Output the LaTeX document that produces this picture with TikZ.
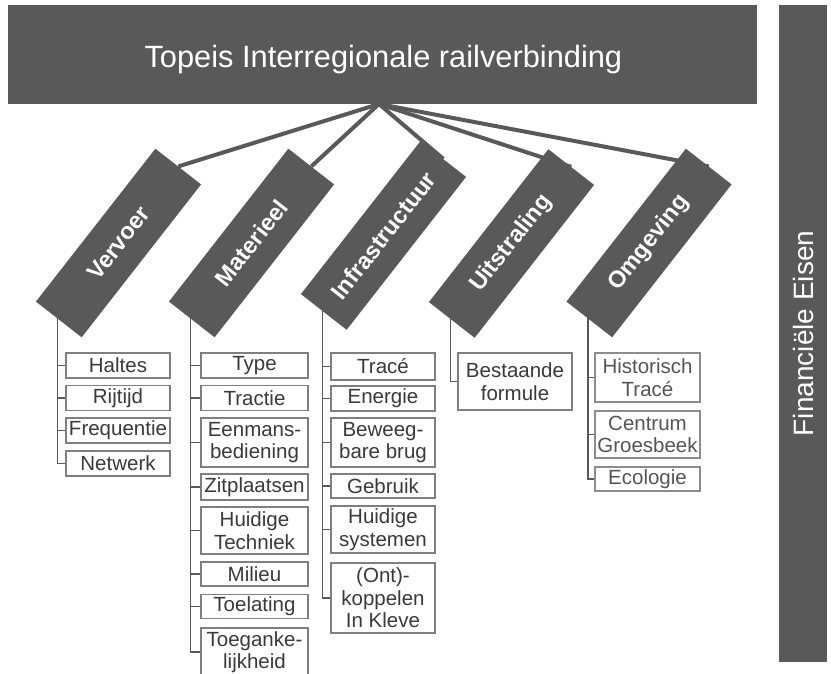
\documentclass[tikz,border=0pt]{standalone}
\usepackage{fontspec}
\setmainfont{Liberation Sans}
\usetikzlibrary{backgrounds,calc}
\definecolor{dark}{HTML}{595959}
\definecolor{itemtext}{HTML}{3A3A3A}
\definecolor{itemborder}{HTML}{7F7F7F}
\definecolor{lighttext}{HTML}{555555}
\definecolor{lightborder}{HTML}{8C8C8C}
\begin{document}
\begin{tikzpicture}[x=1pt,y=-1pt,
  cat/.style={fill=dark, draw=none, rotate=52, minimum width=194pt, minimum height=58pt,
    inner sep=0pt, text=white, font=\fontsize{23.5}{27}\selectfont\bfseries},
  item/.style={draw=itemborder, line width=1.3pt, fill=white, inner sep=0pt, align=center,
    text=itemtext, font=\fontsize{20.5}{22.5}\selectfont},
  oitem/.style={item, draw=lightborder, text=lighttext},
  conn/.style={draw=dark, line width=4pt},
  tree/.style={draw=dark, line width=1.4pt},
  vcol/.style={item, minimum width=104pt},
  mcol/.style={item, minimum width=107pt},
  icol/.style={item, minimum width=104pt},
  ucol/.style={item, minimum width=114pt},
  ocol/.style={oitem, minimum width=105pt}
]
\useasboundingbox (0,0) rectangle (831,673);
\clip (0,0) rectangle (831,673);

% banner and title
\node[fill=dark, minimum width=749pt, minimum height=99pt, inner sep=0pt] (banner) at (382.5,54.5) {};
\node[anchor=base, inner sep=0pt, text=white, font=\fontsize{30.8}{36}\selectfont] (title) at (383.4,67.3) {Topeis Interregionale railverbinding};
\coordinate (hub) at (379,104);

% right bar
\node[fill=dark, rotate=90, minimum width=657pt, minimum height=48pt, inner sep=0pt,
  text=white, font=\fontsize{28}{32}\selectfont] (fin) at (803,333.5) {Financiële Eisen};

% categories
\node[cat] (vervoer) at (118.5,243) {Vervoer};
\node[cat] (materieel) at (251.5,243) {Materieel};
\node[cat] (infra) at (383.5,235.5) {Infrastructuur};
\node[cat] (uitstraling) at (511.5,243.5) {Uitstraling};
\node[cat] (omgeving) at (649,243) {Omgeving};

\coordinate (vroot) at ($(vervoer.center)+(-61,50)$);
\coordinate (mroot) at ($(materieel.center)+(-61,50)$);
\coordinate (iroot) at ($(infra.center)+(-61,57)$);
\coordinate (uroot) at ($(uitstraling.center)+(-61,50)$);
\coordinate (oroot) at ($(omgeving.center)+(-61,50)$);

% Vervoer items
\node[vcol, minimum height=25pt] (haltes) at (118,365.5) {Haltes};
\node[vcol, minimum height=25pt] (rijtijd) at (118,398) {Rijtijd};
\node[vcol, minimum height=25pt] (frequentie) at (118,430.5) {Frequentie};
\node[vcol, minimum height=25pt] (netwerk) at (118,463.5) {Netwerk};

% Materieel items
\node[mcol, minimum height=25pt] (type) at (254.5,365.5) {Type};
\node[mcol, minimum height=25pt] (tractie) at (254.5,398) {Tractie};
\node[mcol, minimum height=49pt] (eenmans) at (254.5,442.5) {Eenmans-\\bediening};
\node[mcol, minimum height=26pt] (zitplaatsen) at (254.5,487) {Zitplaatsen};
\node[mcol, minimum height=47pt] (huidigetech) at (254.5,530.5) {Huidige\\Techniek};
\node[mcol, minimum height=24pt] (milieu) at (254.5,574) {Milieu};
\node[mcol, minimum height=24pt] (toelating) at (254.5,606.5) {Toelating};
\node[mcol, minimum height=48pt] (toegank) at (254.5,652) {Toeganke-\\lijkheid};

% Infrastructuur items
\node[icol, minimum height=27pt] (trace) at (383,366.5) {Tracé};
\node[icol, minimum height=25pt] (energie) at (383,398.5) {Energie};
\node[icol, minimum height=49pt] (brug) at (383,442.5) {Beweeg-\\bare brug};
\node[icol, minimum height=24pt] (gebruik) at (383,486) {Gebruik};
\node[icol, minimum height=47pt] (huidigesys) at (383,529.5) {Huidige\\systemen};
\node[icol, minimum height=70pt] (koppelen) at (383,598) {(Ont)-\\koppelen\\In Kleve};

% Uitstraling items
\node[ucol, minimum height=57pt] (bestaande) at (515,381.5) {Bestaande\\formule};

% Omgeving items
\node[ocol, minimum height=49pt] (historisch) at (647.5,377.5) {Historisch\\Tracé};
\node[ocol, minimum height=47pt] (centrum) at (647.5,434.5) {Centrum\\Groesbeek};
\node[ocol, minimum height=24pt] (ecologie) at (647.5,479) {Ecologie};

\begin{pgfonlayer}{background}
  \fill[white] (0,0) rectangle (831,673);
  \draw[conn] (hub) -- (vervoer.east);
  \draw[conn] (hub) -- (materieel.east);
  \draw[conn] (hub) -- (infra.east);
  \draw[conn] (hub) -- (uitstraling.east);
  \draw[conn] (hub) -- (omgeving.east);
  \foreach \n in {haltes,rijtijd,frequentie,netwerk}
    \draw[tree] (vroot) |- (\n.west);
  \foreach \n in {type,tractie,eenmans,zitplaatsen,huidigetech,milieu,toelating,toegank}
    \draw[tree] (mroot) |- (\n.west);
  \foreach \n in {trace,energie,brug,gebruik,huidigesys,koppelen}
    \draw[tree] (iroot) |- (\n.west);
  \draw[tree] (uroot) |- (bestaande.west);
  \foreach \n in {historisch,centrum,ecologie}
    \draw[tree] (oroot) |- (\n.west);
\end{pgfonlayer}
\end{tikzpicture}
\end{document}
